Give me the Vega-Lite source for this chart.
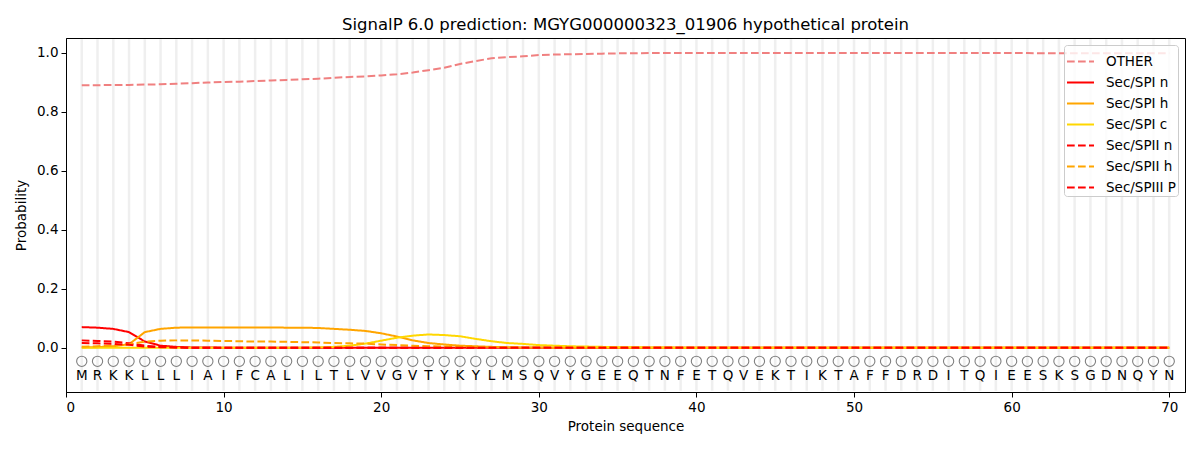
{
  "$schema": "https://vega.github.io/schema/vega-lite/v6.json",
  "description": "SignalP 6.0 per-residue probabilities",
  "autosize": {"type": "none"},
  "padding": {"left": 66, "top": 38, "right": 15, "bottom": 58},
  "width": 1119,
  "height": 354,
  "title": {
    "text": "SignalP 6.0 prediction: MGYG000000323_01906 hypothetical protein",
    "fontSize": 16.5,
    "fontWeight": "normal",
    "font": "DejaVu Sans",
    "color": "black",
    "offset": 4
  },
  "config": {
    "font": "DejaVu Sans",
    "view": {"stroke": "black", "strokeWidth": 1},
    "axis": {
      "grid": false,
      "domainColor": "black",
      "tickColor": "black",
      "tickSize": 5,
      "labelColor": "black",
      "labelFontSize": 13.5,
      "titleFontSize": 13.5,
      "titleFontWeight": "normal",
      "titleColor": "black",
      "labelPadding": 3
    }
  },
  "data": {
    "values": [
      {"pos": 1, "aa": "M", "OTHER": 0.890, "Sec/SPI n": 0.070, "Sec/SPI h": 0.001, "Sec/SPI c": 0.000, "Sec/SPII n": 0.025, "Sec/SPII h": 0.003, "Sec/SPIII P": 0.016},
      {"pos": 2, "aa": "R", "OTHER": 0.890, "Sec/SPI n": 0.068, "Sec/SPI h": 0.002, "Sec/SPI c": 0.000, "Sec/SPII n": 0.023, "Sec/SPII h": 0.005, "Sec/SPIII P": 0.015},
      {"pos": 3, "aa": "K", "OTHER": 0.891, "Sec/SPI n": 0.064, "Sec/SPI h": 0.005, "Sec/SPI c": 0.000, "Sec/SPII n": 0.021, "Sec/SPII h": 0.008, "Sec/SPIII P": 0.013},
      {"pos": 4, "aa": "K", "OTHER": 0.891, "Sec/SPI n": 0.053, "Sec/SPI h": 0.012, "Sec/SPI c": 0.000, "Sec/SPII n": 0.015, "Sec/SPII h": 0.012, "Sec/SPIII P": 0.010},
      {"pos": 5, "aa": "L", "OTHER": 0.892, "Sec/SPI n": 0.021, "Sec/SPI h": 0.053, "Sec/SPI c": 0.000, "Sec/SPII n": 0.007, "Sec/SPII h": 0.021, "Sec/SPIII P": 0.004},
      {"pos": 6, "aa": "L", "OTHER": 0.893, "Sec/SPI n": 0.007, "Sec/SPI h": 0.064, "Sec/SPI c": 0.000, "Sec/SPII n": 0.003, "Sec/SPII h": 0.024, "Sec/SPIII P": 0.002},
      {"pos": 7, "aa": "L", "OTHER": 0.895, "Sec/SPI n": 0.003, "Sec/SPI h": 0.068, "Sec/SPI c": 0.000, "Sec/SPII n": 0.001, "Sec/SPII h": 0.025, "Sec/SPIII P": 0.001},
      {"pos": 8, "aa": "I", "OTHER": 0.897, "Sec/SPI n": 0.001, "Sec/SPI h": 0.069, "Sec/SPI c": 0.000, "Sec/SPII n": 0.000, "Sec/SPII h": 0.025, "Sec/SPIII P": 0.000},
      {"pos": 9, "aa": "A", "OTHER": 0.899, "Sec/SPI n": 0.001, "Sec/SPI h": 0.069, "Sec/SPI c": 0.000, "Sec/SPII n": 0.000, "Sec/SPII h": 0.024, "Sec/SPIII P": 0.000},
      {"pos": 10, "aa": "I", "OTHER": 0.901, "Sec/SPI n": 0.000, "Sec/SPI h": 0.069, "Sec/SPI c": 0.000, "Sec/SPII n": 0.000, "Sec/SPII h": 0.023, "Sec/SPIII P": 0.000},
      {"pos": 11, "aa": "F", "OTHER": 0.902, "Sec/SPI n": 0.000, "Sec/SPI h": 0.069, "Sec/SPI c": 0.000, "Sec/SPII n": 0.000, "Sec/SPII h": 0.022, "Sec/SPIII P": 0.000},
      {"pos": 12, "aa": "C", "OTHER": 0.904, "Sec/SPI n": 0.000, "Sec/SPI h": 0.069, "Sec/SPI c": 0.000, "Sec/SPII n": 0.000, "Sec/SPII h": 0.021, "Sec/SPIII P": 0.000},
      {"pos": 13, "aa": "A", "OTHER": 0.906, "Sec/SPI n": 0.000, "Sec/SPI h": 0.069, "Sec/SPI c": 0.000, "Sec/SPII n": 0.000, "Sec/SPII h": 0.021, "Sec/SPIII P": 0.000},
      {"pos": 14, "aa": "L", "OTHER": 0.908, "Sec/SPI n": 0.000, "Sec/SPI h": 0.068, "Sec/SPI c": 0.000, "Sec/SPII n": 0.000, "Sec/SPII h": 0.020, "Sec/SPIII P": 0.000},
      {"pos": 15, "aa": "I", "OTHER": 0.910, "Sec/SPI n": 0.000, "Sec/SPI h": 0.068, "Sec/SPI c": 0.000, "Sec/SPII n": 0.000, "Sec/SPII h": 0.019, "Sec/SPIII P": 0.000},
      {"pos": 16, "aa": "L", "OTHER": 0.912, "Sec/SPI n": 0.000, "Sec/SPI h": 0.067, "Sec/SPI c": 0.001, "Sec/SPII n": 0.000, "Sec/SPII h": 0.018, "Sec/SPIII P": 0.000},
      {"pos": 17, "aa": "T", "OTHER": 0.915, "Sec/SPI n": 0.000, "Sec/SPI h": 0.064, "Sec/SPI c": 0.003, "Sec/SPII n": 0.000, "Sec/SPII h": 0.016, "Sec/SPIII P": 0.000},
      {"pos": 18, "aa": "L", "OTHER": 0.918, "Sec/SPI n": 0.000, "Sec/SPI h": 0.061, "Sec/SPI c": 0.007, "Sec/SPII n": 0.000, "Sec/SPII h": 0.015, "Sec/SPIII P": 0.000},
      {"pos": 19, "aa": "V", "OTHER": 0.920, "Sec/SPI n": 0.000, "Sec/SPI h": 0.057, "Sec/SPI c": 0.014, "Sec/SPII n": 0.000, "Sec/SPII h": 0.014, "Sec/SPIII P": 0.000},
      {"pos": 20, "aa": "V", "OTHER": 0.923, "Sec/SPI n": 0.000, "Sec/SPI h": 0.049, "Sec/SPI c": 0.024, "Sec/SPII n": 0.000, "Sec/SPII h": 0.011, "Sec/SPIII P": 0.000},
      {"pos": 21, "aa": "G", "OTHER": 0.927, "Sec/SPI n": 0.000, "Sec/SPI h": 0.038, "Sec/SPI c": 0.034, "Sec/SPII n": 0.000, "Sec/SPII h": 0.009, "Sec/SPIII P": 0.000},
      {"pos": 22, "aa": "V", "OTHER": 0.933, "Sec/SPI n": 0.000, "Sec/SPI h": 0.025, "Sec/SPI c": 0.041, "Sec/SPII n": 0.000, "Sec/SPII h": 0.007, "Sec/SPIII P": 0.000},
      {"pos": 23, "aa": "T", "OTHER": 0.941, "Sec/SPI n": 0.000, "Sec/SPI h": 0.016, "Sec/SPI c": 0.045, "Sec/SPII n": 0.000, "Sec/SPII h": 0.005, "Sec/SPIII P": 0.000},
      {"pos": 24, "aa": "Y", "OTHER": 0.949, "Sec/SPI n": 0.000, "Sec/SPI h": 0.011, "Sec/SPI c": 0.043, "Sec/SPII n": 0.000, "Sec/SPII h": 0.004, "Sec/SPIII P": 0.000},
      {"pos": 25, "aa": "K", "OTHER": 0.962, "Sec/SPI n": 0.000, "Sec/SPI h": 0.007, "Sec/SPI c": 0.039, "Sec/SPII n": 0.000, "Sec/SPII h": 0.003, "Sec/SPIII P": 0.000},
      {"pos": 26, "aa": "Y", "OTHER": 0.972, "Sec/SPI n": 0.000, "Sec/SPI h": 0.005, "Sec/SPI c": 0.030, "Sec/SPII n": 0.000, "Sec/SPII h": 0.002, "Sec/SPIII P": 0.000},
      {"pos": 27, "aa": "L", "OTHER": 0.981, "Sec/SPI n": 0.000, "Sec/SPI h": 0.003, "Sec/SPI c": 0.022, "Sec/SPII n": 0.000, "Sec/SPII h": 0.001, "Sec/SPIII P": 0.000},
      {"pos": 28, "aa": "M", "OTHER": 0.985, "Sec/SPI n": 0.000, "Sec/SPI h": 0.002, "Sec/SPI c": 0.016, "Sec/SPII n": 0.000, "Sec/SPII h": 0.001, "Sec/SPIII P": 0.000},
      {"pos": 29, "aa": "S", "OTHER": 0.988, "Sec/SPI n": 0.000, "Sec/SPI h": 0.001, "Sec/SPI c": 0.013, "Sec/SPII n": 0.000, "Sec/SPII h": 0.000, "Sec/SPIII P": 0.000},
      {"pos": 30, "aa": "Q", "OTHER": 0.992, "Sec/SPI n": 0.000, "Sec/SPI h": 0.001, "Sec/SPI c": 0.009, "Sec/SPII n": 0.000, "Sec/SPII h": 0.000, "Sec/SPIII P": 0.000},
      {"pos": 31, "aa": "V", "OTHER": 0.994, "Sec/SPI n": 0.000, "Sec/SPI h": 0.000, "Sec/SPI c": 0.007, "Sec/SPII n": 0.000, "Sec/SPII h": 0.000, "Sec/SPIII P": 0.000},
      {"pos": 32, "aa": "Y", "OTHER": 0.995, "Sec/SPI n": 0.000, "Sec/SPI h": 0.000, "Sec/SPI c": 0.005, "Sec/SPII n": 0.000, "Sec/SPII h": 0.000, "Sec/SPIII P": 0.000},
      {"pos": 33, "aa": "G", "OTHER": 0.996, "Sec/SPI n": 0.000, "Sec/SPI h": 0.000, "Sec/SPI c": 0.004, "Sec/SPII n": 0.000, "Sec/SPII h": 0.000, "Sec/SPIII P": 0.000},
      {"pos": 34, "aa": "E", "OTHER": 0.997, "Sec/SPI n": 0.000, "Sec/SPI h": 0.000, "Sec/SPI c": 0.003, "Sec/SPII n": 0.000, "Sec/SPII h": 0.000, "Sec/SPIII P": 0.000},
      {"pos": 35, "aa": "E", "OTHER": 0.998, "Sec/SPI n": 0.000, "Sec/SPI h": 0.000, "Sec/SPI c": 0.002, "Sec/SPII n": 0.000, "Sec/SPII h": 0.000, "Sec/SPIII P": 0.000},
      {"pos": 36, "aa": "Q", "OTHER": 0.998, "Sec/SPI n": 0.000, "Sec/SPI h": 0.000, "Sec/SPI c": 0.002, "Sec/SPII n": 0.000, "Sec/SPII h": 0.000, "Sec/SPIII P": 0.000},
      {"pos": 37, "aa": "T", "OTHER": 0.999, "Sec/SPI n": 0.000, "Sec/SPI h": 0.000, "Sec/SPI c": 0.001, "Sec/SPII n": 0.000, "Sec/SPII h": 0.000, "Sec/SPIII P": 0.000},
      {"pos": 38, "aa": "N", "OTHER": 0.999, "Sec/SPI n": 0.000, "Sec/SPI h": 0.000, "Sec/SPI c": 0.001, "Sec/SPII n": 0.000, "Sec/SPII h": 0.000, "Sec/SPIII P": 0.000},
      {"pos": 39, "aa": "F", "OTHER": 0.999, "Sec/SPI n": 0.000, "Sec/SPI h": 0.000, "Sec/SPI c": 0.000, "Sec/SPII n": 0.000, "Sec/SPII h": 0.000, "Sec/SPIII P": 0.000},
      {"pos": 40, "aa": "E", "OTHER": 0.999, "Sec/SPI n": 0.000, "Sec/SPI h": 0.000, "Sec/SPI c": 0.000, "Sec/SPII n": 0.000, "Sec/SPII h": 0.000, "Sec/SPIII P": 0.000},
      {"pos": 41, "aa": "T", "OTHER": 0.999, "Sec/SPI n": 0.000, "Sec/SPI h": 0.000, "Sec/SPI c": 0.000, "Sec/SPII n": 0.000, "Sec/SPII h": 0.000, "Sec/SPIII P": 0.000},
      {"pos": 42, "aa": "Q", "OTHER": 0.999, "Sec/SPI n": 0.000, "Sec/SPI h": 0.000, "Sec/SPI c": 0.000, "Sec/SPII n": 0.000, "Sec/SPII h": 0.000, "Sec/SPIII P": 0.000},
      {"pos": 43, "aa": "V", "OTHER": 0.999, "Sec/SPI n": 0.000, "Sec/SPI h": 0.000, "Sec/SPI c": 0.000, "Sec/SPII n": 0.000, "Sec/SPII h": 0.000, "Sec/SPIII P": 0.000},
      {"pos": 44, "aa": "E", "OTHER": 0.999, "Sec/SPI n": 0.000, "Sec/SPI h": 0.000, "Sec/SPI c": 0.000, "Sec/SPII n": 0.000, "Sec/SPII h": 0.000, "Sec/SPIII P": 0.000},
      {"pos": 45, "aa": "K", "OTHER": 0.999, "Sec/SPI n": 0.000, "Sec/SPI h": 0.000, "Sec/SPI c": 0.000, "Sec/SPII n": 0.000, "Sec/SPII h": 0.000, "Sec/SPIII P": 0.000},
      {"pos": 46, "aa": "T", "OTHER": 0.999, "Sec/SPI n": 0.000, "Sec/SPI h": 0.000, "Sec/SPI c": 0.000, "Sec/SPII n": 0.000, "Sec/SPII h": 0.000, "Sec/SPIII P": 0.000},
      {"pos": 47, "aa": "I", "OTHER": 0.999, "Sec/SPI n": 0.000, "Sec/SPI h": 0.000, "Sec/SPI c": 0.000, "Sec/SPII n": 0.000, "Sec/SPII h": 0.000, "Sec/SPIII P": 0.000},
      {"pos": 48, "aa": "K", "OTHER": 0.999, "Sec/SPI n": 0.000, "Sec/SPI h": 0.000, "Sec/SPI c": 0.000, "Sec/SPII n": 0.000, "Sec/SPII h": 0.000, "Sec/SPIII P": 0.000},
      {"pos": 49, "aa": "T", "OTHER": 0.999, "Sec/SPI n": 0.000, "Sec/SPI h": 0.000, "Sec/SPI c": 0.000, "Sec/SPII n": 0.000, "Sec/SPII h": 0.000, "Sec/SPIII P": 0.000},
      {"pos": 50, "aa": "A", "OTHER": 0.999, "Sec/SPI n": 0.000, "Sec/SPI h": 0.000, "Sec/SPI c": 0.000, "Sec/SPII n": 0.000, "Sec/SPII h": 0.000, "Sec/SPIII P": 0.000},
      {"pos": 51, "aa": "F", "OTHER": 0.999, "Sec/SPI n": 0.000, "Sec/SPI h": 0.000, "Sec/SPI c": 0.000, "Sec/SPII n": 0.000, "Sec/SPII h": 0.000, "Sec/SPIII P": 0.000},
      {"pos": 52, "aa": "F", "OTHER": 0.999, "Sec/SPI n": 0.000, "Sec/SPI h": 0.000, "Sec/SPI c": 0.000, "Sec/SPII n": 0.000, "Sec/SPII h": 0.000, "Sec/SPIII P": 0.000},
      {"pos": 53, "aa": "D", "OTHER": 0.999, "Sec/SPI n": 0.000, "Sec/SPI h": 0.000, "Sec/SPI c": 0.000, "Sec/SPII n": 0.000, "Sec/SPII h": 0.000, "Sec/SPIII P": 0.000},
      {"pos": 54, "aa": "R", "OTHER": 0.999, "Sec/SPI n": 0.000, "Sec/SPI h": 0.000, "Sec/SPI c": 0.000, "Sec/SPII n": 0.000, "Sec/SPII h": 0.000, "Sec/SPIII P": 0.000},
      {"pos": 55, "aa": "D", "OTHER": 0.999, "Sec/SPI n": 0.000, "Sec/SPI h": 0.000, "Sec/SPI c": 0.000, "Sec/SPII n": 0.000, "Sec/SPII h": 0.000, "Sec/SPIII P": 0.000},
      {"pos": 56, "aa": "I", "OTHER": 0.999, "Sec/SPI n": 0.000, "Sec/SPI h": 0.000, "Sec/SPI c": 0.000, "Sec/SPII n": 0.000, "Sec/SPII h": 0.000, "Sec/SPIII P": 0.000},
      {"pos": 57, "aa": "T", "OTHER": 0.999, "Sec/SPI n": 0.000, "Sec/SPI h": 0.000, "Sec/SPI c": 0.000, "Sec/SPII n": 0.000, "Sec/SPII h": 0.000, "Sec/SPIII P": 0.000},
      {"pos": 58, "aa": "Q", "OTHER": 0.999, "Sec/SPI n": 0.000, "Sec/SPI h": 0.000, "Sec/SPI c": 0.000, "Sec/SPII n": 0.000, "Sec/SPII h": 0.000, "Sec/SPIII P": 0.000},
      {"pos": 59, "aa": "I", "OTHER": 0.999, "Sec/SPI n": 0.000, "Sec/SPI h": 0.000, "Sec/SPI c": 0.000, "Sec/SPII n": 0.000, "Sec/SPII h": 0.000, "Sec/SPIII P": 0.000},
      {"pos": 60, "aa": "E", "OTHER": 0.999, "Sec/SPI n": 0.000, "Sec/SPI h": 0.000, "Sec/SPI c": 0.000, "Sec/SPII n": 0.000, "Sec/SPII h": 0.000, "Sec/SPIII P": 0.000},
      {"pos": 61, "aa": "E", "OTHER": 0.999, "Sec/SPI n": 0.000, "Sec/SPI h": 0.000, "Sec/SPI c": 0.000, "Sec/SPII n": 0.000, "Sec/SPII h": 0.000, "Sec/SPIII P": 0.000},
      {"pos": 62, "aa": "S", "OTHER": 0.998, "Sec/SPI n": 0.000, "Sec/SPI h": 0.000, "Sec/SPI c": 0.000, "Sec/SPII n": 0.000, "Sec/SPII h": 0.000, "Sec/SPIII P": 0.000},
      {"pos": 63, "aa": "K", "OTHER": 0.998, "Sec/SPI n": 0.000, "Sec/SPI h": 0.000, "Sec/SPI c": 0.000, "Sec/SPII n": 0.000, "Sec/SPII h": 0.000, "Sec/SPIII P": 0.000},
      {"pos": 64, "aa": "S", "OTHER": 0.998, "Sec/SPI n": 0.000, "Sec/SPI h": 0.000, "Sec/SPI c": 0.000, "Sec/SPII n": 0.000, "Sec/SPII h": 0.000, "Sec/SPIII P": 0.000},
      {"pos": 65, "aa": "G", "OTHER": 0.998, "Sec/SPI n": 0.000, "Sec/SPI h": 0.000, "Sec/SPI c": 0.000, "Sec/SPII n": 0.000, "Sec/SPII h": 0.000, "Sec/SPIII P": 0.000},
      {"pos": 66, "aa": "D", "OTHER": 0.998, "Sec/SPI n": 0.000, "Sec/SPI h": 0.000, "Sec/SPI c": 0.000, "Sec/SPII n": 0.000, "Sec/SPII h": 0.000, "Sec/SPIII P": 0.000},
      {"pos": 67, "aa": "N", "OTHER": 0.998, "Sec/SPI n": 0.000, "Sec/SPI h": 0.000, "Sec/SPI c": 0.000, "Sec/SPII n": 0.000, "Sec/SPII h": 0.000, "Sec/SPIII P": 0.000},
      {"pos": 68, "aa": "Q", "OTHER": 0.998, "Sec/SPI n": 0.000, "Sec/SPI h": 0.000, "Sec/SPI c": 0.000, "Sec/SPII n": 0.000, "Sec/SPII h": 0.000, "Sec/SPIII P": 0.000},
      {"pos": 69, "aa": "Y", "OTHER": 0.998, "Sec/SPI n": 0.000, "Sec/SPI h": 0.000, "Sec/SPI c": 0.000, "Sec/SPII n": 0.000, "Sec/SPII h": 0.000, "Sec/SPIII P": 0.000},
      {"pos": 70, "aa": "N", "OTHER": 0.998, "Sec/SPI n": 0.000, "Sec/SPI h": 0.000, "Sec/SPI c": 0.000, "Sec/SPII n": 0.000, "Sec/SPII h": 0.000, "Sec/SPIII P": 0.000}
    ]
  },
  "encoding": {
    "x": {
      "field": "pos",
      "type": "quantitative",
      "scale": {"domain": [0, 71], "nice": false, "zero": false},
      "axis": {"title": "Protein sequence", "values": [0, 10, 20, 30, 40, 50, 60, 70], "titlePadding": 6}
    }
  },
  "layer": [
    {
      "mark": {"type": "rule", "color": "#ebebeb", "strokeWidth": 2.5, "opacity": 0.8},
      "encoding": {
        "y": {"datum": 1.046, "type": "quantitative"},
        "y2": {"datum": -0.146}
      }
    },
    {
      "mark": {"type": "point", "shape": "circle", "filled": false, "color": "#808080", "size": 105, "strokeWidth": 1.1, "opacity": 1},
      "encoding": {
        "y": {"datum": -0.046, "type": "quantitative"}
      }
    },
    {
      "mark": {"type": "text", "fontSize": 13.5, "color": "black", "baseline": "middle", "font": "DejaVu Sans"},
      "encoding": {
        "y": {"datum": -0.097, "type": "quantitative"},
        "text": {"field": "aa"}
      }
    },
    {
      "transform": [
        {"fold": ["OTHER", "Sec/SPI n", "Sec/SPI h", "Sec/SPI c", "Sec/SPII n", "Sec/SPII h", "Sec/SPIII P"], "as": ["series", "prob"]}
      ],
      "mark": {"type": "line", "strokeWidth": 2, "interpolate": "linear"},
      "encoding": {
        "y": {
          "field": "prob",
          "type": "quantitative",
          "scale": {"domain": [-0.15, 1.05], "nice": false, "zero": false},
          "axis": {"title": "Probability", "values": [0, 0.2, 0.4, 0.6, 0.8, 1.0], "format": ".1f", "titlePadding": 8}
        },
        "color": {
          "field": "series",
          "type": "nominal",
          "sort": ["OTHER", "Sec/SPI n", "Sec/SPI h", "Sec/SPI c", "Sec/SPII n", "Sec/SPII h", "Sec/SPIII P"],
          "scale": {
            "domain": ["OTHER", "Sec/SPI n", "Sec/SPI h", "Sec/SPI c", "Sec/SPII n", "Sec/SPII h", "Sec/SPIII P"],
            "range": ["#f08080", "#ff0000", "#ffa500", "#ffd700", "#ff0000", "#ffa500", "#ff0000"]
          },
          "legend": {
            "title": null,
            "titlePadding": 0,
            "orient": "top-right",
            "offset": 7,
            "symbolType": "stroke",
            "symbolSize": 729,
            "symbolStrokeWidth": 2,
            "labelFontSize": 13.5,
            "labelColor": "black",
            "labelOffset": 11,
            "rowPadding": 0,
            "padding": 2,
            "fillColor": "rgba(255,255,255,0.8)",
            "strokeColor": "#cccccc",
            "cornerRadius": 3
          }
        },
        "strokeDash": {
          "field": "series",
          "type": "nominal",
          "sort": ["OTHER", "Sec/SPI n", "Sec/SPI h", "Sec/SPI c", "Sec/SPII n", "Sec/SPII h", "Sec/SPIII P"],
          "scale": {
            "domain": ["OTHER", "Sec/SPI n", "Sec/SPI h", "Sec/SPI c", "Sec/SPII n", "Sec/SPII h", "Sec/SPIII P"],
            "range": [[7.7, 3.3], [1, 0], [1, 0], [1, 0], [7.7, 3.3], [7.7, 3.3], [7.7, 3.3]]
          },
          "legend": null
        },
        "order": {"field": "pos", "type": "quantitative"}
      }
    }
  ]
}
